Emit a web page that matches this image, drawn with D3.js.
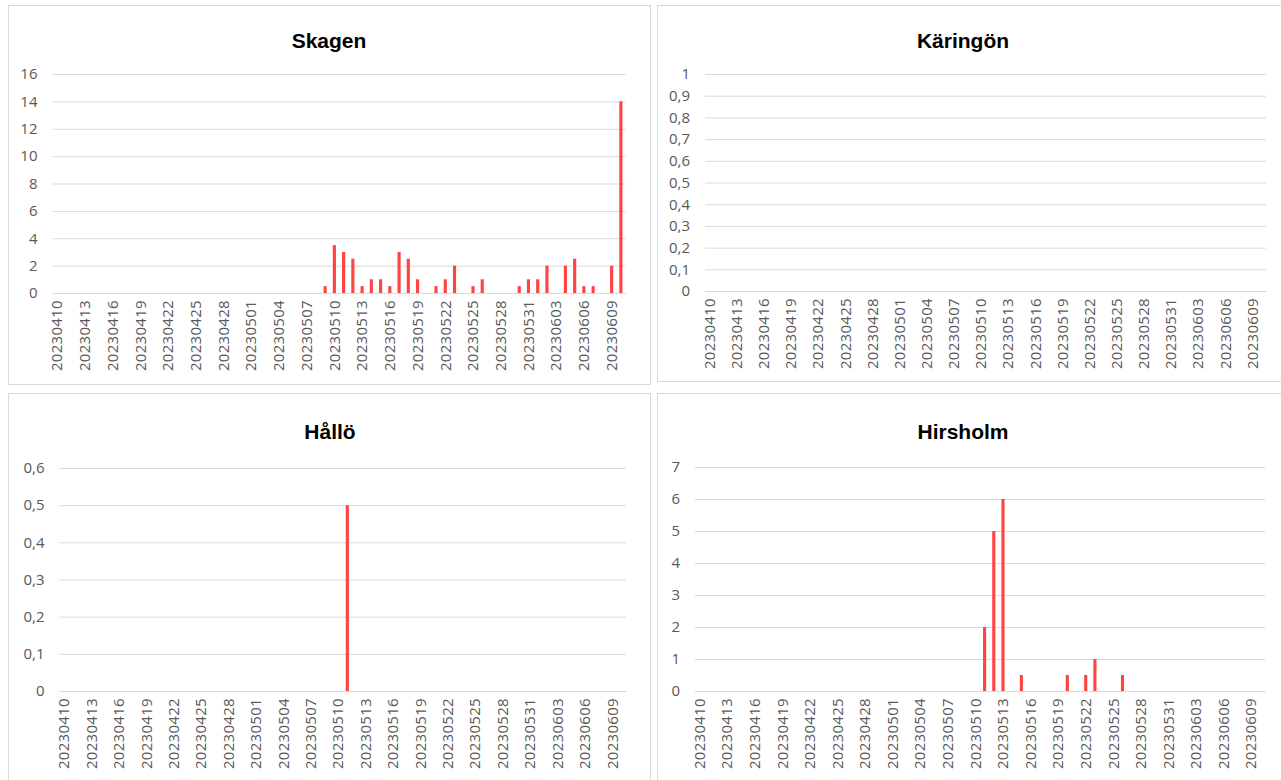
<!DOCTYPE html>
<html>
<head>
<meta charset="utf-8">
<script src="https://cdn.jsdelivr.net/npm/d3@7"></script>
<style>
  html, body { margin: 0; padding: 0; background: #ffffff; }
  svg { display: block; }
</style>
</head>
<body>
<svg id="chart" width="1281" height="780"></svg>
<script>
// ---------- DATA ----------
const dates = [
  "20230410","20230411","20230412","20230413","20230414","20230415","20230416","20230417","20230418","20230419",
  "20230420","20230421","20230422","20230423","20230424","20230425","20230426","20230427","20230428","20230429",
  "20230430","20230501","20230502","20230503","20230504","20230505","20230506","20230507","20230508","20230509",
  "20230510","20230511","20230512","20230513","20230514","20230515","20230516","20230517","20230518","20230519",
  "20230520","20230521","20230522","20230523","20230524","20230525","20230526","20230527","20230528","20230529",
  "20230530","20230531","20230601","20230602","20230603","20230604","20230605","20230606","20230607","20230608",
  "20230609","20230610"
];

const skagen = [
  0,0,0,0,0,0,0,0,0,0,
  0,0,0,0,0,0,0,0,0,0,
  0,0,0,0,0,0,0,0,0,0.5,
  3.5,3,2.5,0.5,1,1,0.5,3,2.5,1,
  0,0.5,1,2,0,0.5,1,0,0,0,
  0.5,1,1,2,0,2,2.5,0.5,0.5,0,
  2,14
];

const karingon = [
  0,0,0,0,0,0,0,0,0,0,
  0,0,0,0,0,0,0,0,0,0,
  0,0,0,0,0,0,0,0,0,0,
  0,0,0,0,0,0,0,0,0,0,
  0,0,0,0,0,0,0,0,0,0,
  0,0,0,0,0,0,0,0,0,0,
  0,0
];

const hallo = [
  0,0,0,0,0,0,0,0,0,0,
  0,0,0,0,0,0,0,0,0,0,
  0,0,0,0,0,0,0,0,0,0,
  0,0.5,0,0,0,0,0,0,0,0,
  0,0,0,0,0,0,0,0,0,0,
  0,0,0,0,0,0,0,0,0,0,
  0,0
];

const hirsholm = [
  0,0,0,0,0,0,0,0,0,0,
  0,0,0,0,0,0,0,0,0,0,
  0,0,0,0,0,0,0,0,0,0,
  0,2,5,6,0,0.5,0,0,0,0,
  0.5,0,0.5,1,0,0,0.5,0,0,0,
  0,0,0,0,0,0,0,0,0,0,
  0,0
];

const xTickLabels = [
  "20230410","20230413","20230416","20230419","20230422","20230425","20230428",
  "20230501","20230504","20230507","20230510","20230513","20230516","20230519",
  "20230522","20230525","20230528","20230531","20230603","20230606","20230609"
];

const skagenTicks   = [0, 2, 4, 6, 8, 10, 12, 14, 16];
const karingonTicks = [0, 0.1, 0.2, 0.3, 0.4, 0.5, 0.6, 0.7, 0.8, 0.9, 1];
const halloTicks    = [0, 0.1, 0.2, 0.3, 0.4, 0.5, 0.6];
const hirsholmTicks = [0, 1, 2, 3, 4, 5, 6, 7];

// ---------- LAYOUT ----------
const panels = [
  { title: "Skagen",   values: skagen,   ticks: skagenTicks,
    box: [8, 5, 642, 379],   plot: { left: 52.5, right: 625.5, top: 74,  bottom: 293 }, titlePos: [329, 48] },
  { title: "Käringön", values: karingon, ticks: karingonTicks,
    box: [657, 5, 640, 376], plot: { left: 705,  right: 1266,  top: 74,  bottom: 291 }, titlePos: [963, 48] },
  { title: "Hållö",    values: hallo,    ticks: halloTicks,
    box: [8, 393, 642, 400], plot: { left: 59.5, right: 626,   top: 468, bottom: 691 }, titlePos: [330, 439] },
  { title: "Hirsholm", values: hirsholm, ticks: hirsholmTicks,
    box: [657, 393, 640, 400], plot: { left: 695, right: 1265, top: 467, bottom: 691 }, titlePos: [963, 439] }
];

const svg = d3.select("#chart");
const gridColor = "#d9d9d9";
const textColor = "#595959";
const barColor = "#ff4343";
const fmt = v => String(v).replace(".", ",");

panels.forEach(p => {
  const g = svg.append("g");

  g.append("rect")
    .attr("x", p.box[0] + 0.5).attr("y", p.box[1] + 0.5)
    .attr("width", p.box[2]).attr("height", p.box[3])
    .attr("fill", "#ffffff").attr("stroke", gridColor).attr("stroke-width", 1);

  g.append("text")
    .attr("x", p.titlePos[0]).attr("y", p.titlePos[1])
    .attr("text-anchor", "middle")
    .attr("font-family", "'Liberation Sans', Arial, sans-serif")
    .attr("font-weight", "bold").attr("font-size", 21)
    .attr("fill", "#000000")
    .text(p.title);

  const x = d3.scaleBand()
    .domain(dates)
    .range([p.plot.left, p.plot.right])
    .paddingInner(0.66).paddingOuter(0.33);

  const y = d3.scaleLinear()
    .domain([0, d3.max(p.ticks)])
    .range([p.plot.bottom, p.plot.top]);

  // gridlines + y labels
  const yAxis = g.append("g")
    .attr("transform", `translate(${p.plot.left},0)`)
    .call(d3.axisLeft(y).tickValues(p.ticks)
      .tickSize(-(p.plot.right - p.plot.left)).tickPadding(15)
      .tickFormat(fmt));
  yAxis.select(".domain").remove();
  yAxis.selectAll(".tick line").attr("stroke", gridColor).attr("stroke-width", 1);
  yAxis.selectAll(".tick text")
    .attr("fill", textColor)
    .attr("font-family", "'Open Sans', sans-serif")
    .attr("font-size", 15);

  // x axis
  const xAxis = g.append("g")
    .attr("transform", `translate(0,${p.plot.bottom})`)
    .call(d3.axisBottom(x).tickValues(xTickLabels).tickSize(0).tickPadding(0));
  xAxis.select(".domain").attr("stroke", gridColor).attr("stroke-width", 1.2);
  xAxis.selectAll(".tick text")
    .attr("fill", textColor)
    .attr("font-family", "'Open Sans', sans-serif")
    .attr("font-size", 15)
    .attr("letter-spacing", "0.3px")
    .attr("text-anchor", "end")
    .attr("transform", "translate(0,7) rotate(-90)")
    .attr("x", 0).attr("y", 0).attr("dy", "0.35em");

  // bars
  g.append("g").selectAll("rect")
    .data(dates.map((d, i) => ({ date: d, value: p.values[i] })).filter(d => d.value > 0))
    .join("rect")
    .attr("x", d => x(d.date))
    .attr("width", x.bandwidth())
    .attr("y", d => y(d.value))
    .attr("height", d => y(0) - y(d.value))
    .attr("fill", barColor);
});
</script>
</body>
</html>
